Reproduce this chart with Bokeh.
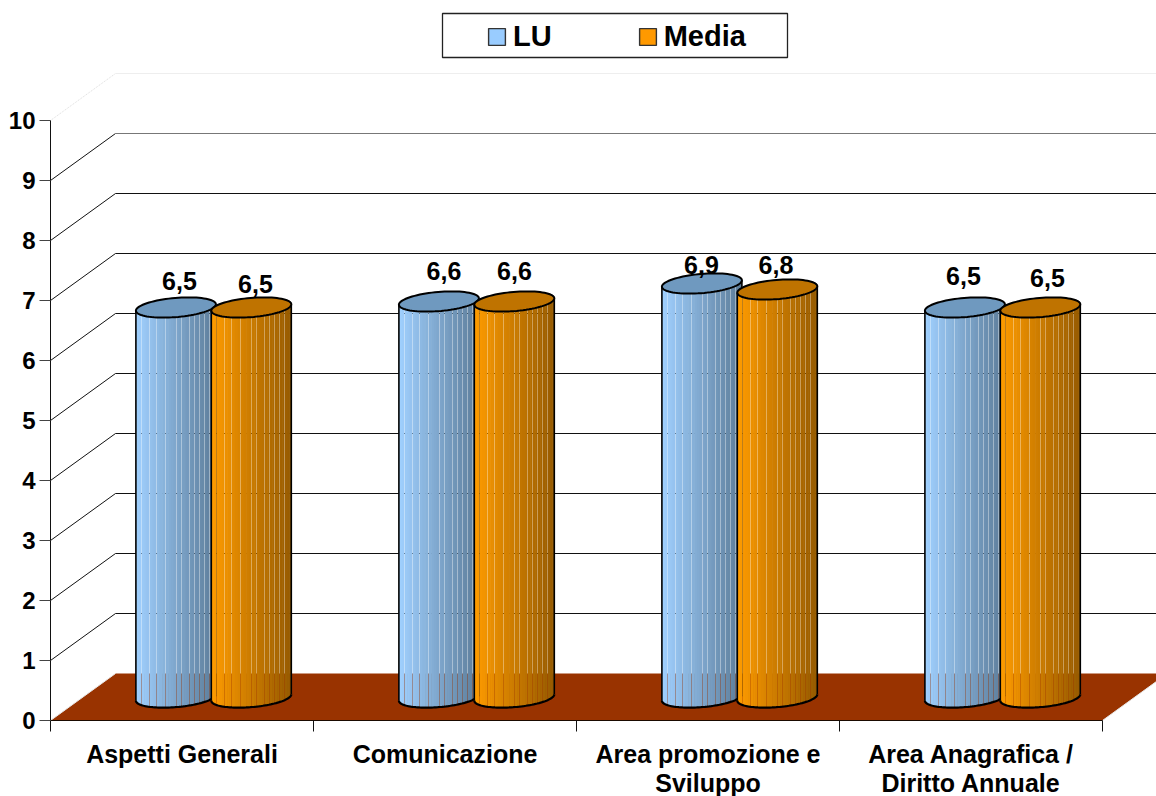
from bokeh.plotting import figure
from bokeh.models import Range1d, LinearAxis, FixedTicker, Legend, LegendItem
from bokeh.core.properties import value
from bokeh.embed import file_html
from bokeh.resources import INLINE
import numpy as np

categories = ["Aspetti Generali", "Comunicazione", "Area promozione e\nSviluppo", "Area Anagrafica /\nDiritto Annuale"]
lu_values = [6.5, 6.6, 6.9, 6.5]
media_values = [6.5, 6.6, 6.8, 6.5]
lu_labels = ["6,5", "6,6", "6,9", "6,5"]
media_labels = ["6,5", "6,6", "6,8", "6,5"]
y_ticks = list(range(0, 11))

FONT = "Liberation Sans"
W, H = 1156, 796
PX_CAT, PX_VAL = 263.0, 60.0      # pixels per category / per value unit
X0, Y0 = 50.0, 720.0              # pixel of the axes origin
DX, DY = 65.0, 47.0               # 3D depth of the box

p = figure(width=W, height=H, output_backend="svg", toolbar_location=None,
           x_range=Range1d(-X0 / PX_CAT, (W - X0) / PX_CAT),
           y_range=Range1d((Y0 - H) / PX_VAL, Y0 / PX_VAL),
           x_axis_type=None, y_axis_type=None,
           min_border=0, margin=0)
p.outline_line_color = None
p.grid.visible = False
p.background_fill_color = "white"

ox = lambda px: px / PX_CAT
oy = lambda px: px / PX_VAL
dx_ = lambda px: (px - X0) / PX_CAT
dy_ = lambda px: (Y0 - px) / PX_VAL

# floor
p.patch([0, 4, 4 + ox(DX), ox(DX)], [0, 0, oy(DY), oy(DY)], fill_color="#993300", line_color=None)
p.line([0, ox(DX)], [0, oy(DY)], line_color="#e8e8e8", line_width=1)
p.line([4, 4 + ox(DX)], [0, oy(DY)], line_color="#e8e8e8", line_width=1)

# walls
for v in y_ticks[1:]:
    col = "#eeeeee" if v == 10 else ("#777777" if v == 9 else "#111111")
    p.line([0, ox(DX)], [v, v + oy(DY)], line_color="#dddddd" if v == 10 else "#111111",
           line_width=1, line_dash="1 1" if v == 10 else "solid")
    p.line([ox(DX), 4 + ox(DX)], [v + oy(DY), v + oy(DY)], line_color=col, line_width=1.1)

# cylinders
A, B, S = 40.0, 9.6, 3.2
BASE_LIFT = 23.0
SEAMS = [5, 13, 20, 29, 40, 45, 53, 58, 63, 68, 73]   # pixel offsets of the thin light facet joints

def cylinder(c_px, val, stops, cap):
    xs, ys, cols = [], [], []
    c0, c1 = np.array(stops[0], float), np.array(stops[1], float)
    def low(x):
        return -(S * x / A) + B * np.sqrt(np.clip(1 - (x / A) ** 2, 0, 1))  # px below centre
    cuts = sorted(set([-A, A] + [s - A + 0.3 for s in SEAMS]))
    # fine colour ramp, separated only at the facet joints
    for a, b in zip(cuts[:-1], cuts[1:]):
        left = a + (0.0 if a == -A else 0.28)
        sub = np.linspace(left, b, max(2, int((b - left) / 3) + 2))
        for l, r in zip(sub[:-1], sub[1:]):
            m = (l + r) / 2
            t = (m + A) / (2 * A)
            col = c0 + (c1 - c0) * t
            cols.append("#%02x%02x%02x" % tuple(int(round(k)) for k in col))
            r2 = min(r + 0.6, b)
            xs.append([ox(c_px + l), ox(c_px + r2), ox(c_px + r2), ox(c_px + l)])
            yt = lambda x: val + oy(BASE_LIFT) + oy(S * x / A)
            yb = lambda x: oy(BASE_LIFT - low(x))
            ys.append([yt(l), yt(r2), yb(r2), yb(l)])
    p.patches(xs, ys, fill_color=cols, line_color=None)
    # outline of the body
    tt = np.linspace(np.pi, 0, 60)
    ex = A * np.cos(tt)
    ey = np.array([low(x) for x in ex])
    p.line(list(ox(c_px + ex)), list(oy(BASE_LIFT) - ey / PX_VAL), line_color="#000000", line_width=2.2)
    p.segment([ox(c_px - A), ox(c_px + A)], [oy(BASE_LIFT) - oy(low(-A)), oy(BASE_LIFT) - oy(low(A))],
              [ox(c_px - A), ox(c_px + A)], [val + oy(BASE_LIFT) - oy(low(-A)), val + oy(BASE_LIFT) - oy(low(A))],
              line_color="#000000", line_width=1.6)
    # top cap
    t2 = np.linspace(0, 2 * np.pi, 80)
    cx_ = A * np.cos(t2)
    cy_ = -S * np.cos(t2) + B * np.sin(t2)
    p.patch(list(ox(c_px + cx_)), list(val + oy(BASE_LIFT) - cy_ / PX_VAL), fill_color=cap,
            line_color="#000000", line_width=2)

BLUE = ((0xa0, 0xd0, 0xff), (0x5c, 0x7c, 0x99))
ORANGE = ((0xff, 0x9c, 0x00), (0x96, 0x5a, 0x00))
for i in range(4):
    cylinder(i * PX_CAT + 125.4, lu_values[i], BLUE, "#6f99bf")
    cylinder(i * PX_CAT + 200.8, media_values[i], ORANGE, "#bf7300")

# value labels
lu_dx = [129, 393.5, 651, 913]
lu_dy = [27, 31, 19, 32]
me_dx = [205, 464, 725.5, 997]
me_dy = [24, 31, 25, 30]
lx = [ox(a) for a in lu_dx] + [ox(a) for a in me_dx]
ly = [v + oy(BASE_LIFT) + oy(d) for v, d in zip(lu_values + media_values, lu_dy + me_dy)]
p.text(lx, ly, text=lu_labels + media_labels, text_font=value(FONT), text_font_style="bold",
       text_font_size="25px", text_color="#000000", text_align="center", text_baseline="middle")

# axes
yax = LinearAxis(ticker=FixedTicker(ticks=y_ticks), fixed_location=0, bounds=(0, 10))
yax.major_tick_out, yax.major_tick_in = 11, 0
yax.minor_tick_line_color = None
yax.axis_line_color = "#111111"
yax.major_tick_line_color = "#444444"
yax.major_label_text_font = FONT
yax.major_label_text_font_style = "bold"
yax.major_label_text_font_size = "24px"
yax.major_label_text_color = "#000000"
yax.major_label_standoff = 4
p.add_layout(yax, "left")

xax = LinearAxis(ticker=FixedTicker(ticks=[0, 1, 2, 3, 4]), fixed_location=0, bounds=(0, 4))
xax.major_tick_out, xax.major_tick_in = 11, 0
xax.minor_tick_line_color = None
xax.axis_line_color = "#1a0a00"
xax.axis_line_width = 1.2
xax.major_tick_line_color = "#111111"
xax.major_label_text_font_size = "0px"
xax.major_label_text_color = None
p.add_layout(xax, "below")

lab = LinearAxis(ticker=FixedTicker(ticks=[0.5, 1.5, 2.5, 3.5]), fixed_location=0,
                 major_label_overrides={i + 0.5: c for i, c in enumerate(categories)})
lab.major_tick_out, lab.major_tick_in = 0, 0
lab.minor_tick_line_color = None
lab.axis_line_color = None
lab.major_tick_line_color = None
lab.major_label_text_font = FONT
lab.major_label_text_font_style = "bold"
lab.major_label_text_font_size = "25px"
lab.major_label_text_line_height = 1.06
lab.major_label_text_color = "#000000"
lab.major_label_standoff = 19
p.add_layout(lab, "below")

# legend box and legend
p.quad(left=[dx_(442)], right=[dx_(787)], top=[dy_(13)], bottom=[dy_(57)], fill_color="white",
       line_color="#222222", line_width=1.3)
off = [-50]
lg1 = p.quad(left=off, right=off, top=off, bottom=off, fill_color="#99ccff", line_color="#333333", line_width=1.4)
lg2 = p.quad(left=off, right=off, top=off, bottom=off, fill_color="#ff9900", line_color="#333333", line_width=1.4)
leg = Legend(items=[LegendItem(label="LU", renderers=[lg1]), LegendItem(label="Media", renderers=[lg2])],
             orientation="horizontal", location=(486, H - 53),
             glyph_width=21, glyph_height=21, label_standoff=6, spacing=85, padding=0, margin=0,
             label_text_font=FONT, label_text_font_style="bold", label_text_font_size="29px",
             label_text_color="#000000", border_line_color=None, background_fill_alpha=0)
p.add_layout(leg, "center")

open("out.html", "w").write(file_html(p, INLINE))
